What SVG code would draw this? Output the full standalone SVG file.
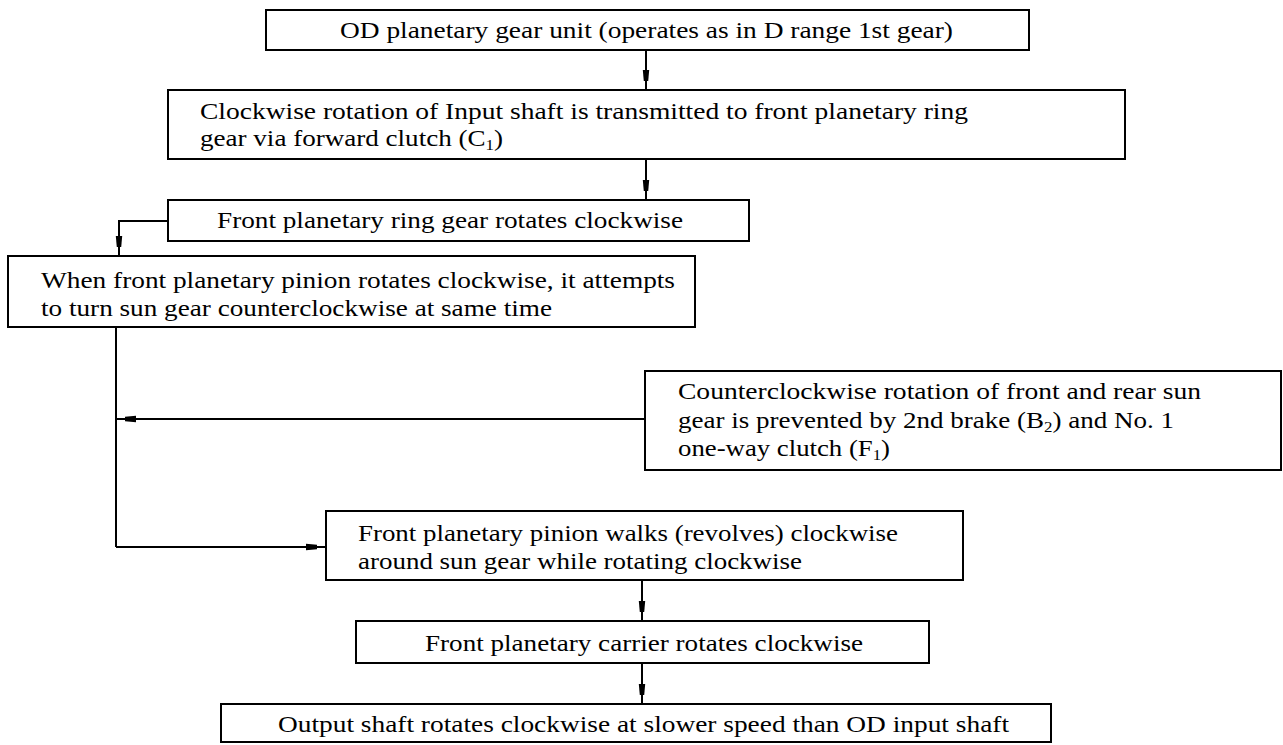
<svg xmlns="http://www.w3.org/2000/svg" width="1283" height="745" viewBox="0 0 1283 745">
<style>
.box{fill:none;stroke:#000;stroke-width:2}
.t{font-family:"Liberation Serif","Times New Roman",serif;font-size:24px;fill:#000}
.s{font-size:15px}
.c{fill:none;stroke:#000;stroke-width:2}
</style>
<defs>
<marker id="ah" markerWidth="30" markerHeight="8" refX="20" refY="4" orient="auto" markerUnits="userSpaceOnUse">
<path d="M0,0.8 L11,1.8 L11,6.2 L0,7.2 z" fill="#000"/>
</marker>
</defs>
<rect width="1283" height="745" fill="#fff"/>
<g id="n1">
<rect class="box" x="266" y="10" width="763" height="40"/>
<text class="t" x="340" y="38" textLength="613" lengthAdjust="spacingAndGlyphs">OD planetary gear unit (operates as in D range 1st gear)</text>
</g>
<g id="n2">
<rect class="box" x="168" y="90" width="957" height="69"/>
<text class="t" x="200" y="119" textLength="768" lengthAdjust="spacingAndGlyphs">Clockwise rotation of Input shaft is transmitted to front planetary ring</text>
<text class="t" x="200" y="146" textLength="303" lengthAdjust="spacingAndGlyphs">gear via forward clutch (C<tspan class="s" dy="4">1</tspan><tspan dy="-4">)</tspan></text>
</g>
<g id="n3">
<rect class="box" x="168" y="200" width="581" height="41"/>
<text class="t" x="217" y="228" textLength="466" lengthAdjust="spacingAndGlyphs">Front planetary ring gear rotates clockwise</text>
</g>
<g id="n4">
<rect class="box" x="8" y="256" width="687" height="71"/>
<text class="t" x="41" y="288" textLength="634" lengthAdjust="spacingAndGlyphs">When front planetary pinion rotates clockwise, it attempts</text>
<text class="t" x="41" y="316" textLength="511" lengthAdjust="spacingAndGlyphs">to turn sun gear counterclockwise at same time</text>
</g>
<g id="n5">
<rect class="box" x="645" y="371" width="636" height="99"/>
<text class="t" x="678" y="399" textLength="523" lengthAdjust="spacingAndGlyphs">Counterclockwise rotation of front and rear sun</text>
<text class="t" x="678" y="428" textLength="496" lengthAdjust="spacingAndGlyphs">gear is prevented by 2nd brake (B<tspan class="s" dy="4">2</tspan><tspan dy="-4">) and No. 1</tspan></text>
<text class="t" x="678" y="456" textLength="212" lengthAdjust="spacingAndGlyphs">one-way clutch (F<tspan class="s" dy="4">1</tspan><tspan dy="-4">)</tspan></text>
</g>
<g id="n6">
<rect class="box" x="326" y="511" width="637" height="69"/>
<text class="t" x="358" y="541" textLength="540" lengthAdjust="spacingAndGlyphs">Front planetary pinion walks (revolves) clockwise</text>
<text class="t" x="358" y="569" textLength="444" lengthAdjust="spacingAndGlyphs">around sun gear while rotating clockwise</text>
</g>
<g id="n7">
<rect class="box" x="356" y="621" width="573" height="42"/>
<text class="t" x="425" y="651" textLength="438" lengthAdjust="spacingAndGlyphs">Front planetary carrier rotates clockwise</text>
</g>
<g id="n8">
<rect class="box" x="221" y="704" width="830" height="38"/>
<text class="t" x="278" y="732" textLength="731" lengthAdjust="spacingAndGlyphs">Output shaft rotates clockwise at slower speed than OD input shaft</text>
</g>
<g id="connectors">
<line class="c" x1="646" y1="50" x2="646" y2="90" marker-end="url(#ah)"/>
<line class="c" x1="646" y1="159" x2="646" y2="200" marker-end="url(#ah)"/>
<polyline class="c" points="168,221 119,221 119,256" marker-end="url(#ah)"/>
<line class="c" x1="116" y1="327" x2="116" y2="547"/>
<line class="c" x1="645" y1="419" x2="116" y2="419" marker-end="url(#ah)"/>
<line class="c" x1="116" y1="547" x2="326" y2="547" marker-end="url(#ah)"/>
<line class="c" x1="642" y1="580" x2="642" y2="621" marker-end="url(#ah)"/>
<line class="c" x1="642" y1="663" x2="642" y2="704" marker-end="url(#ah)"/>
</g>
</svg>
